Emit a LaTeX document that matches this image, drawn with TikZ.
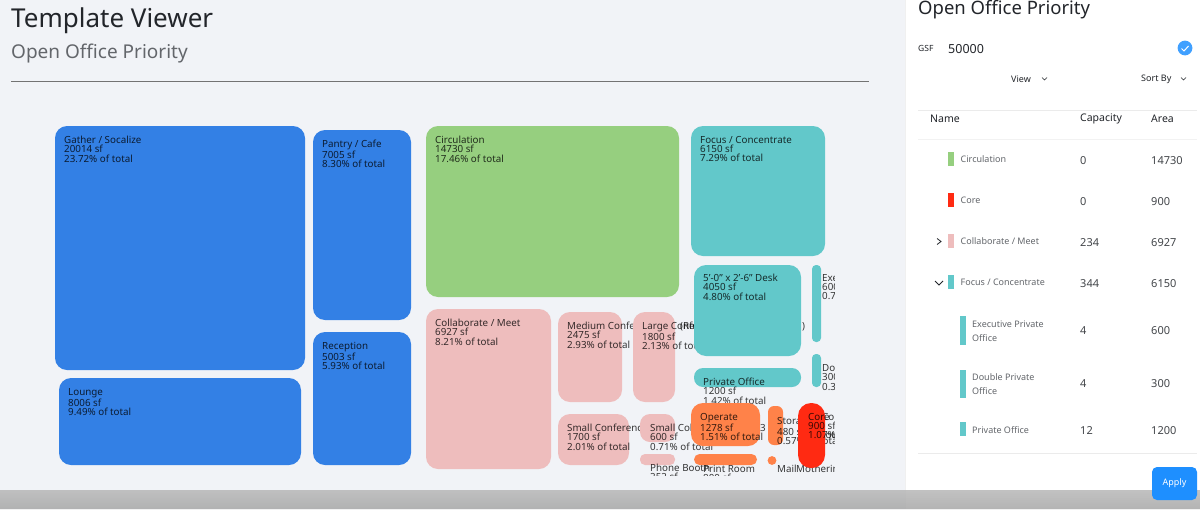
\documentclass[tikz,border=0pt]{standalone}
\usepackage{xcolor}
\usepackage{fontspec}
\setmainfont{Noto Sans}
\usetikzlibrary{positioning,arrows.meta}

\definecolor{pagebg}{HTML}{F1F3F7}
\definecolor{gatherblue}{HTML}{3380E5}
\definecolor{circgreen}{HTML}{96CF7F}
\definecolor{meetpink}{HTML}{EEBDBD}
\definecolor{focusteal}{HTML}{62C8CA}
\definecolor{operateorange}{HTML}{FF8249}
\definecolor{corered}{HTML}{FF2A12}
\definecolor{inkdark}{HTML}{22252A}
\definecolor{inkgrey}{HTML}{63666B}
\definecolor{applyblue}{HTML}{1E8FFF}

\tikzset{
  tile/.style={rounded corners=#1},
  tile/.default=12pt,
  tiletext/.style={anchor=north west, inner sep=0pt, align=left, text=black, text opacity=.78,
    font=\fontsize{9.8}{9.2}\selectfont},
  rowtext/.style={anchor=west, inner sep=0pt, text=inkgrey, align=left, font=\fontsize{9}{14}\selectfont},
  numtext/.style={anchor=west, inner sep=0pt, text=inkdark!85, font=\fontsize{11}{13}\selectfont},
  headtext/.style={anchor=west, inner sep=0pt, text=inkdark, font=\fontsize{10.5}{12}\selectfont\bfseries},
  chevron/.style={draw=inkdark, line width=.8pt},
}

\begin{document}
\begin{tikzpicture}[x=1pt, y=-1pt]
\useasboundingbox (0,0) rectangle (1200,509);
\fill[pagebg] (0,0) rectangle (1200,509);

% header
\node[anchor=west, inner sep=0pt, text=inkdark, font=\fontsize{26}{30}\selectfont\bfseries] (title) at (11,21) {Template Viewer};
\node[anchor=west, inner sep=0pt, text=inkgrey, font=\fontsize{19}{22}\selectfont\bfseries] (subtitle) at (11,54) {Open Office Priority};
\coordinate (ruleleft) at (11,81);
\coordinate (ruleright) at (869,81);
\draw[black!55, line width=.8pt] (ruleleft) -- (ruleright);

% treemap, later tiles cover the text of earlier ones
\begin{scope}
\clip (40,110) rectangle (834,475);
\fill[tile, gatherblue] (55,126) rectangle (305,370);
\node[tiletext] (gather) at (64,136) {Gather / Socalize\\20014 sf\\23.72\% of total};
\fill[tile, gatherblue] (59,378) rectangle (301,465);
\node[tiletext] (lounge) at (68,388) {Lounge\\8006 sf\\9.49\% of total};
\fill[tile, gatherblue] (313,130) rectangle (411,320);
\node[tiletext] (pantry) at (322,140) {Pantry / Cafe\\7005 sf\\8.30\% of total};
\fill[tile, gatherblue] (313,332) rectangle (411,465);
\node[tiletext] (reception) at (322,342) {Reception\\5003 sf\\5.93\% of total};

\fill[tile, circgreen] (426,126) rectangle (679,297);
\node[tiletext] (circulation) at (435,136) {Circulation\\14730 sf\\17.46\% of total};

\fill[tile, meetpink] (426,309) rectangle (551,469);
\node[tiletext] (collaborate) at (435,319) {Collaborate / Meet\\6927 sf\\8.21\% of total};
\fill[tile, meetpink] (558,312) rectangle (622,402);
\node[tiletext] (medium) at (567,322) {Medium Conference\\2475 sf\\2.93\% of total};
\fill[tile, meetpink] (633,312) rectangle (675,402);
\node[tiletext] (large) at (642,322) {Large Conference\\1800 sf\\2.13\% of total};
\node[tiletext] (hiddenleft) at (680,322) {(Re};
\node[tiletext] (hiddenright) at (802,322) {)};
\fill[tile, meetpink] (558,414) rectangle (629,465);
\node[tiletext] (smallconf) at (567,424) {Small Conference\\1700 sf\\2.01\% of total};
\fill[tile=10pt, meetpink] (640,414) rectangle (675,442);
\node[tiletext] (smallcollab) at (650,424) {Small Collab\\600 sf\\0.71\% of total};
\node[tiletext] (hiddencount) at (760,424) {3};
\fill[tile=5pt, meetpink] (640,454) rectangle (675,465);
\node[tiletext] (phone) at (650,464) {Phone Booth\\252 sf};

\fill[tile, focusteal] (691,126) rectangle (825,256);
\node[tiletext] (focus) at (700,136) {Focus / Concentrate\\6150 sf\\7.29\% of total};
\fill[tile, focusteal] (694,265) rectangle (801,356);
\node[tiletext] (desk) at (703,274) {5'-0" x 2'-6" Desk\\4050 sf\\4.80\% of total};
\fill[tile=4pt, focusteal] (812,265) rectangle (821,342);
\node[tiletext] (executive) at (822,274) {Executive\\600 sf\\0.71\% of total};
\fill[tile=4pt, focusteal] (812,354) rectangle (821,387);
\node[tiletext] (double) at (822,364) {Double\\300 sf\\0.36\% of total};
\fill[tile=9pt, focusteal] (694,368) rectangle (801,387);
\node[tiletext] (private) at (703,378) {Private Office\\1200 sf\\1.42\% of total};

\fill[tile, operateorange] (691,403) rectangle (760,446);
\node[tiletext] (operate) at (700,413) {Operate\\1278 sf\\1.51\% of total};
\fill[tile=6pt, operateorange] (768,406) rectangle (783,445);
\node[tiletext] (storage) at (777,417) {Storage\\480 sf\\0.57\% of total};
\fill[tile=5.5pt, operateorange] (694,454) rectangle (757,465);
\node[tiletext] (printroom) at (703,465) {Print Room\\800 sf};
\fill[operateorange] (772,460.5) circle (4.4);
\node[tiletext] (mail) at (777,465) {Mail};
\node[tiletext] (mothering) at (796,465) {Mothering};
\node[tiletext] (hiddencore) at (822,413) {Cor\\\\total};
\fill[tile=13pt, corered] (798,403) rectangle (825,468);
\node[tiletext] (core) at (808,413) {Core\\900 sf\\1.07\% of total};
\end{scope}

% side panel
\fill[white] (905,0) rectangle (1200,509);
\draw[black!6, line width=1pt] (905,0) -- (905,509);
\node[anchor=west, inner sep=0pt, text=inkdark, font=\fontsize{18.5}{22}\selectfont] (paneltitle) at (918,10) {Open Office Priority};
\node[anchor=west, inner sep=0pt, text=inkdark, font=\fontsize{8.5}{10}\selectfont] (gsf) at (918,48) {GSF};
\node[anchor=west, inner sep=0pt, text=inkdark, font=\fontsize{12.5}{14}\selectfont] (gsfvalue) at (948,49) {50000};
\fill[applyblue!85!white] (1185,48) circle (7.4);
\draw[white, line width=1pt] (1181.5,48.5) -- (1184,51) -- (1188.5,46);

\node[headtext, font=\fontsize{9}{11}\selectfont\bfseries] (viewhead) at (1011,79) {View};
\draw[chevron, line width=.6pt] (1042,77.5) -- (1044.5,80) -- (1047,77.5);
\node[headtext, font=\fontsize{9}{11}\selectfont\bfseries] (sorthead) at (1141,79) {Sort By};
\draw[chevron, line width=.6pt] (1181,77.5) -- (1183.5,80) -- (1186,77.5);

\coordinate (lineaL) at (918,110);
\coordinate (lineaR) at (1197,110);
\coordinate (linebL) at (918,139);
\coordinate (linebR) at (1197,139);
\coordinate (linecL) at (918,453);
\coordinate (linecR) at (1197,453);
\draw[black!8] (lineaL) -- (lineaR);
\draw[black!5] (linebL) -- (linebR);
\draw[black!8] (linecL) -- (linecR);

\node[headtext] (namehead) at (930,119) {Name};
\node[headtext] (caphead) at (1080,119) {Capacity};
\node[headtext] (areahead) at (1151,119) {Area};

% rows
\fill[circgreen] (948,152) rectangle (954,166);
\node[rowtext] (rowcirc) at (960.5,159) {Circulation};
\node[numtext] (capcirc) at (1080,161) {0};
\node[numtext] (areacirc) at (1151,161) {14730};

\fill[corered] (948,193) rectangle (954,207);
\node[rowtext] (rowcore) at (960.5,200) {Core};
\node[numtext] (capcore) at (1080,202) {0};
\node[numtext] (areacore) at (1151,202) {900};

\draw[chevron] (937,238.5) -- (941,241.5) -- (937,244.5);
\fill[meetpink] (948,234) rectangle (954,248);
\node[rowtext] (rowmeet) at (960.5,241) {Collaborate / Meet};
\node[numtext] (capmeet) at (1080,243) {234};
\node[numtext] (areameet) at (1151,243) {6927};

\draw[chevron] (935,281) -- (939,285) -- (943,281);
\fill[focusteal] (948,275) rectangle (954,289);
\node[rowtext] (rowfocus) at (960.5,282.5) {Focus / Concentrate};
\node[numtext] (capfocus) at (1080,284) {344};
\node[numtext] (areafocus) at (1151,284) {6150};

\fill[focusteal] (960,316) rectangle (966,345);
\node[rowtext] (rowexec) at (972,331) {Executive Private\\Office};
\node[numtext] (capexec) at (1080,331) {4};
\node[numtext] (areaexec) at (1151,331) {600};

\fill[focusteal] (960,370) rectangle (966,398);
\node[rowtext] (rowdouble) at (972,384) {Double Private\\Office};
\node[numtext] (capdouble) at (1080,384) {4};
\node[numtext] (areadouble) at (1151,384) {300};

\fill[focusteal] (960,422) rectangle (966,436);
\node[rowtext] (rowprivate) at (972,430) {Private Office};
\node[numtext] (capprivate) at (1080,431) {12};
\node[numtext] (areaprivate) at (1151,431) {1200};

% bottom shadow
\fill[top color=black!0, bottom color=black!9, fill opacity=.6] (0,490) rectangle (1200,509);

\node[fill=applyblue, rounded corners=5pt, minimum width=45pt, minimum height=33pt, inner sep=0pt, text=white,
  font=\fontsize{9}{11}\selectfont\bfseries] (apply) at (1174.5,483.5) {Apply};
\end{tikzpicture}
\end{document}
